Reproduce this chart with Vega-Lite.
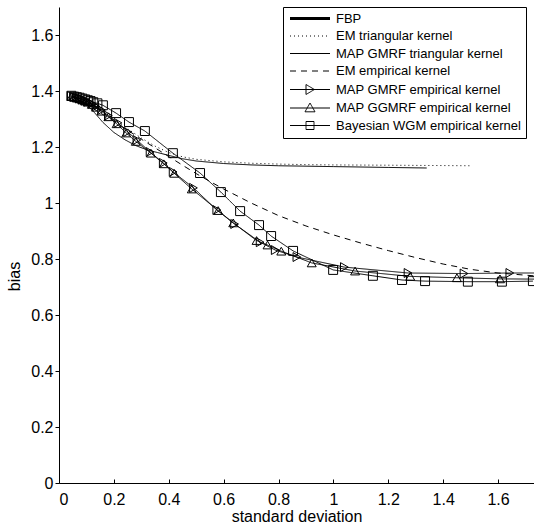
{
  "$schema": "https://vega.github.io/schema/vega-lite/v6.json",
  "width": 475,
  "height": 476,
  "autosize": "none",
  "padding": {"left": 59, "top": 7, "right": 0, "bottom": 48},
  "background": "white",
  "config": {
    "view": {"stroke": null},
    "font": "Liberation Sans",
    "axis": {"grid": false, "domainColor": "black", "tickColor": "black", "labelColor": "black", "titleColor": "black", "labelFont": "Liberation Sans", "titleFont": "Liberation Sans", "labelFontSize": 16, "titleFontSize": 16, "titleFontWeight": "normal", "domainWidth": 1, "tickWidth": 1}
  },
  "datasets": {
    "curves": [
      {"s": "EM triangular kernel", "x": 0.05, "y": 1.38},
      {"s": "EM triangular kernel", "x": 0.1, "y": 1.356},
      {"s": "EM triangular kernel", "x": 0.15, "y": 1.328},
      {"s": "EM triangular kernel", "x": 0.2, "y": 1.297},
      {"s": "EM triangular kernel", "x": 0.25, "y": 1.265},
      {"s": "EM triangular kernel", "x": 0.3, "y": 1.232},
      {"s": "EM triangular kernel", "x": 0.35, "y": 1.203},
      {"s": "EM triangular kernel", "x": 0.4, "y": 1.18},
      {"s": "EM triangular kernel", "x": 0.45, "y": 1.165},
      {"s": "EM triangular kernel", "x": 0.5, "y": 1.156},
      {"s": "EM triangular kernel", "x": 0.6, "y": 1.147},
      {"s": "EM triangular kernel", "x": 0.7, "y": 1.142},
      {"s": "EM triangular kernel", "x": 0.8, "y": 1.139},
      {"s": "EM triangular kernel", "x": 0.9, "y": 1.137},
      {"s": "EM triangular kernel", "x": 1.0, "y": 1.136},
      {"s": "EM triangular kernel", "x": 1.2, "y": 1.135},
      {"s": "EM triangular kernel", "x": 1.35, "y": 1.134},
      {"s": "EM triangular kernel", "x": 1.5, "y": 1.133},
      {"s": "MAP GMRF triangular kernel", "x": 0.05, "y": 1.378},
      {"s": "MAP GMRF triangular kernel", "x": 0.08, "y": 1.365},
      {"s": "MAP GMRF triangular kernel", "x": 0.1, "y": 1.352},
      {"s": "MAP GMRF triangular kernel", "x": 0.13, "y": 1.322},
      {"s": "MAP GMRF triangular kernel", "x": 0.16, "y": 1.288},
      {"s": "MAP GMRF triangular kernel", "x": 0.2, "y": 1.252},
      {"s": "MAP GMRF triangular kernel", "x": 0.24, "y": 1.226},
      {"s": "MAP GMRF triangular kernel", "x": 0.28, "y": 1.205},
      {"s": "MAP GMRF triangular kernel", "x": 0.32, "y": 1.19},
      {"s": "MAP GMRF triangular kernel", "x": 0.36, "y": 1.18},
      {"s": "MAP GMRF triangular kernel", "x": 0.4, "y": 1.17},
      {"s": "MAP GMRF triangular kernel", "x": 0.45, "y": 1.158},
      {"s": "MAP GMRF triangular kernel", "x": 0.5, "y": 1.15},
      {"s": "MAP GMRF triangular kernel", "x": 0.6, "y": 1.141},
      {"s": "MAP GMRF triangular kernel", "x": 0.7, "y": 1.136},
      {"s": "MAP GMRF triangular kernel", "x": 0.8, "y": 1.133},
      {"s": "MAP GMRF triangular kernel", "x": 1.0, "y": 1.13},
      {"s": "MAP GMRF triangular kernel", "x": 1.2, "y": 1.127},
      {"s": "MAP GMRF triangular kernel", "x": 1.34, "y": 1.125},
      {"s": "EM empirical kernel", "x": 0.05, "y": 1.38},
      {"s": "EM empirical kernel", "x": 0.1, "y": 1.352},
      {"s": "EM empirical kernel", "x": 0.15, "y": 1.322},
      {"s": "EM empirical kernel", "x": 0.2, "y": 1.292},
      {"s": "EM empirical kernel", "x": 0.25, "y": 1.26},
      {"s": "EM empirical kernel", "x": 0.3, "y": 1.228},
      {"s": "EM empirical kernel", "x": 0.35, "y": 1.197},
      {"s": "EM empirical kernel", "x": 0.4, "y": 1.166},
      {"s": "EM empirical kernel", "x": 0.45, "y": 1.135},
      {"s": "EM empirical kernel", "x": 0.5, "y": 1.105},
      {"s": "EM empirical kernel", "x": 0.55, "y": 1.077},
      {"s": "EM empirical kernel", "x": 0.6, "y": 1.05},
      {"s": "EM empirical kernel", "x": 0.7, "y": 1.0},
      {"s": "EM empirical kernel", "x": 0.8, "y": 0.955},
      {"s": "EM empirical kernel", "x": 0.9, "y": 0.918},
      {"s": "EM empirical kernel", "x": 1.0, "y": 0.886},
      {"s": "EM empirical kernel", "x": 1.1, "y": 0.857},
      {"s": "EM empirical kernel", "x": 1.2, "y": 0.83},
      {"s": "EM empirical kernel", "x": 1.3, "y": 0.805},
      {"s": "EM empirical kernel", "x": 1.4, "y": 0.782},
      {"s": "EM empirical kernel", "x": 1.5, "y": 0.763},
      {"s": "EM empirical kernel", "x": 1.6, "y": 0.75},
      {"s": "EM empirical kernel", "x": 1.73, "y": 0.74},
      {"s": "MAP GMRF empirical kernel", "x": 0.045, "y": 1.382},
      {"s": "MAP GMRF empirical kernel", "x": 0.055, "y": 1.38},
      {"s": "MAP GMRF empirical kernel", "x": 0.065, "y": 1.377},
      {"s": "MAP GMRF empirical kernel", "x": 0.075, "y": 1.374},
      {"s": "MAP GMRF empirical kernel", "x": 0.085, "y": 1.37},
      {"s": "MAP GMRF empirical kernel", "x": 0.095, "y": 1.366},
      {"s": "MAP GMRF empirical kernel", "x": 0.105, "y": 1.362},
      {"s": "MAP GMRF empirical kernel", "x": 0.12, "y": 1.355},
      {"s": "MAP GMRF empirical kernel", "x": 0.135, "y": 1.345},
      {"s": "MAP GMRF empirical kernel", "x": 0.155, "y": 1.332},
      {"s": "MAP GMRF empirical kernel", "x": 0.18, "y": 1.312},
      {"s": "MAP GMRF empirical kernel", "x": 0.215, "y": 1.286},
      {"s": "MAP GMRF empirical kernel", "x": 0.25, "y": 1.254},
      {"s": "MAP GMRF empirical kernel", "x": 0.284, "y": 1.225},
      {"s": "MAP GMRF empirical kernel", "x": 0.332, "y": 1.182},
      {"s": "MAP GMRF empirical kernel", "x": 0.38, "y": 1.143},
      {"s": "MAP GMRF empirical kernel", "x": 0.416, "y": 1.111},
      {"s": "MAP GMRF empirical kernel", "x": 0.49, "y": 1.054},
      {"s": "MAP GMRF empirical kernel", "x": 0.575, "y": 0.975},
      {"s": "MAP GMRF empirical kernel", "x": 0.64, "y": 0.925},
      {"s": "MAP GMRF empirical kernel", "x": 0.733, "y": 0.86},
      {"s": "MAP GMRF empirical kernel", "x": 0.788, "y": 0.832},
      {"s": "MAP GMRF empirical kernel", "x": 0.867, "y": 0.807},
      {"s": "MAP GMRF empirical kernel", "x": 1.04, "y": 0.771},
      {"s": "MAP GMRF empirical kernel", "x": 1.272, "y": 0.75},
      {"s": "MAP GMRF empirical kernel", "x": 1.476, "y": 0.748},
      {"s": "MAP GMRF empirical kernel", "x": 1.643, "y": 0.75},
      {"s": "MAP GMRF empirical kernel", "x": 1.8, "y": 0.75},
      {"s": "MAP GGMRF empirical kernel", "x": 0.045, "y": 1.38},
      {"s": "MAP GGMRF empirical kernel", "x": 0.055, "y": 1.378},
      {"s": "MAP GGMRF empirical kernel", "x": 0.065, "y": 1.375},
      {"s": "MAP GGMRF empirical kernel", "x": 0.075, "y": 1.372},
      {"s": "MAP GGMRF empirical kernel", "x": 0.085, "y": 1.368},
      {"s": "MAP GGMRF empirical kernel", "x": 0.095, "y": 1.364},
      {"s": "MAP GGMRF empirical kernel", "x": 0.105, "y": 1.36},
      {"s": "MAP GGMRF empirical kernel", "x": 0.12, "y": 1.352},
      {"s": "MAP GGMRF empirical kernel", "x": 0.135, "y": 1.342},
      {"s": "MAP GGMRF empirical kernel", "x": 0.155, "y": 1.328},
      {"s": "MAP GGMRF empirical kernel", "x": 0.18, "y": 1.308},
      {"s": "MAP GGMRF empirical kernel", "x": 0.21, "y": 1.283},
      {"s": "MAP GGMRF empirical kernel", "x": 0.245, "y": 1.25},
      {"s": "MAP GGMRF empirical kernel", "x": 0.28, "y": 1.22},
      {"s": "MAP GGMRF empirical kernel", "x": 0.335, "y": 1.178},
      {"s": "MAP GGMRF empirical kernel", "x": 0.382, "y": 1.14},
      {"s": "MAP GGMRF empirical kernel", "x": 0.42, "y": 1.106},
      {"s": "MAP GGMRF empirical kernel", "x": 0.484, "y": 1.05},
      {"s": "MAP GGMRF empirical kernel", "x": 0.58, "y": 0.973},
      {"s": "MAP GGMRF empirical kernel", "x": 0.635, "y": 0.929},
      {"s": "MAP GGMRF empirical kernel", "x": 0.72, "y": 0.866},
      {"s": "MAP GGMRF empirical kernel", "x": 0.76, "y": 0.85},
      {"s": "MAP GGMRF empirical kernel", "x": 0.81, "y": 0.828},
      {"s": "MAP GGMRF empirical kernel", "x": 0.921, "y": 0.786},
      {"s": "MAP GGMRF empirical kernel", "x": 1.079, "y": 0.757},
      {"s": "MAP GGMRF empirical kernel", "x": 1.28, "y": 0.738},
      {"s": "MAP GGMRF empirical kernel", "x": 1.45, "y": 0.733},
      {"s": "MAP GGMRF empirical kernel", "x": 1.607, "y": 0.729},
      {"s": "MAP GGMRF empirical kernel", "x": 1.76, "y": 0.728},
      {"s": "Bayesian WGM empirical kernel", "x": 0.045, "y": 1.383},
      {"s": "Bayesian WGM empirical kernel", "x": 0.055, "y": 1.38},
      {"s": "Bayesian WGM empirical kernel", "x": 0.065, "y": 1.378},
      {"s": "Bayesian WGM empirical kernel", "x": 0.075, "y": 1.376},
      {"s": "Bayesian WGM empirical kernel", "x": 0.085, "y": 1.373},
      {"s": "Bayesian WGM empirical kernel", "x": 0.095, "y": 1.37},
      {"s": "Bayesian WGM empirical kernel", "x": 0.105, "y": 1.367},
      {"s": "Bayesian WGM empirical kernel", "x": 0.115, "y": 1.364},
      {"s": "Bayesian WGM empirical kernel", "x": 0.125, "y": 1.36},
      {"s": "Bayesian WGM empirical kernel", "x": 0.14, "y": 1.356},
      {"s": "Bayesian WGM empirical kernel", "x": 0.16, "y": 1.349},
      {"s": "Bayesian WGM empirical kernel", "x": 0.208, "y": 1.321},
      {"s": "Bayesian WGM empirical kernel", "x": 0.255, "y": 1.289},
      {"s": "Bayesian WGM empirical kernel", "x": 0.313, "y": 1.257},
      {"s": "Bayesian WGM empirical kernel", "x": 0.415, "y": 1.178},
      {"s": "Bayesian WGM empirical kernel", "x": 0.514, "y": 1.107},
      {"s": "Bayesian WGM empirical kernel", "x": 0.59, "y": 1.039},
      {"s": "Bayesian WGM empirical kernel", "x": 0.66, "y": 0.971},
      {"s": "Bayesian WGM empirical kernel", "x": 0.729, "y": 0.921},
      {"s": "Bayesian WGM empirical kernel", "x": 0.773, "y": 0.882},
      {"s": "Bayesian WGM empirical kernel", "x": 0.853, "y": 0.829},
      {"s": "Bayesian WGM empirical kernel", "x": 0.999, "y": 0.761},
      {"s": "Bayesian WGM empirical kernel", "x": 1.144, "y": 0.74},
      {"s": "Bayesian WGM empirical kernel", "x": 1.25, "y": 0.725},
      {"s": "Bayesian WGM empirical kernel", "x": 1.334, "y": 0.721},
      {"s": "Bayesian WGM empirical kernel", "x": 1.49, "y": 0.719},
      {"s": "Bayesian WGM empirical kernel", "x": 1.614, "y": 0.719},
      {"s": "Bayesian WGM empirical kernel", "x": 1.727, "y": 0.721}
    ]
  },
  "data": {"name": "curves"},
  "encoding": {
    "x": {"field": "x", "type": "quantitative", "scale": {"domain": [0, 1.731], "nice": false, "zero": false},
      "axis": {"title": "standard deviation", "values": [0, 0.2, 0.4, 0.6, 0.8, 1, 1.2, 1.4, 1.6], "format": "~g", "tickSize": -4, "labelPadding": 12, "titlePadding": 1}},
    "y": {"field": "y", "type": "quantitative", "scale": {"domain": [0, 1.7], "nice": false, "zero": false},
      "axis": {"title": "bias", "values": [0, 0.2, 0.4, 0.6, 0.8, 1, 1.2, 1.4, 1.6], "format": "~g", "tickSize": 4, "labelPadding": 2, "titlePadding": 8, "titleY": 269}}
  },
  "layer": [
    {
      "mark": {"type": "line", "color": "black", "strokeWidth": 1, "clip": true},
      "encoding": {
        "strokeDash": {"field": "s", "type": "nominal",
          "scale": {"domain": ["FBP", "EM triangular kernel", "MAP GMRF triangular kernel", "EM empirical kernel", "MAP GMRF empirical kernel", "MAP GGMRF empirical kernel", "Bayesian WGM empirical kernel"],
            "range": [[1, 0], [1, 3], [1, 0], [6, 5], [1, 0], [1, 0], [1, 0]]},
          "legend": {"title": null, "orient": "none", "legendX": 224, "legendY": 0, "strokeColor": "black", "fillColor": "white", "padding": 5,
            "labelFont": "Liberation Sans", "labelFontSize": 13, "labelColor": "black", "labelLimit": 400, "symbolSize": 1600, "symbolType": "stroke",
            "symbolStrokeColor": "black", "symbolFillColor": "transparent", "rowPadding": 3.5,
            "encode": {
              "symbols": {"update": {
                "x": {"value": 22},
                "shape": {"signal": "datum.value == 'MAP GMRF empirical kernel' ? 'M-1,0H1M-0.2,-0.25L0.22,0L-0.2,0.25Z' : datum.value == 'MAP GGMRF empirical kernel' ? 'M-1,0H1M0,-0.25L0.25,0.19L-0.25,0.19Z' : datum.value == 'Bayesian WGM empirical kernel' ? 'M-1,0H1M-0.2,-0.2H0.2V0.2H-0.2Z' : 'M-1,0H1'"},
                "strokeWidth": {"signal": "datum.value == 'FBP' ? 3 : 1"},
                "stroke": {"value": "black"},
                "fill": {"value": "transparent"}
              }},
              "labels": {"update": {"x": {"value": 48}}}
            }}
        }
      }
    },
    {
      "transform": [{"filter": "indexof(['MAP GMRF empirical kernel','MAP GGMRF empirical kernel','Bayesian WGM empirical kernel'], datum.s) >= 0"}],
      "mark": {"type": "point", "filled": false, "color": "black", "strokeWidth": 1, "size": 80, "clip": true, "opacity": 1},
      "encoding": {
        "shape": {"field": "s", "type": "nominal", "legend": null,
          "scale": {"domain": ["MAP GMRF empirical kernel", "MAP GGMRF empirical kernel", "Bayesian WGM empirical kernel"], "range": ["triangle-right", "triangle-up", "square"]}}
      }
    }
  ]
}
